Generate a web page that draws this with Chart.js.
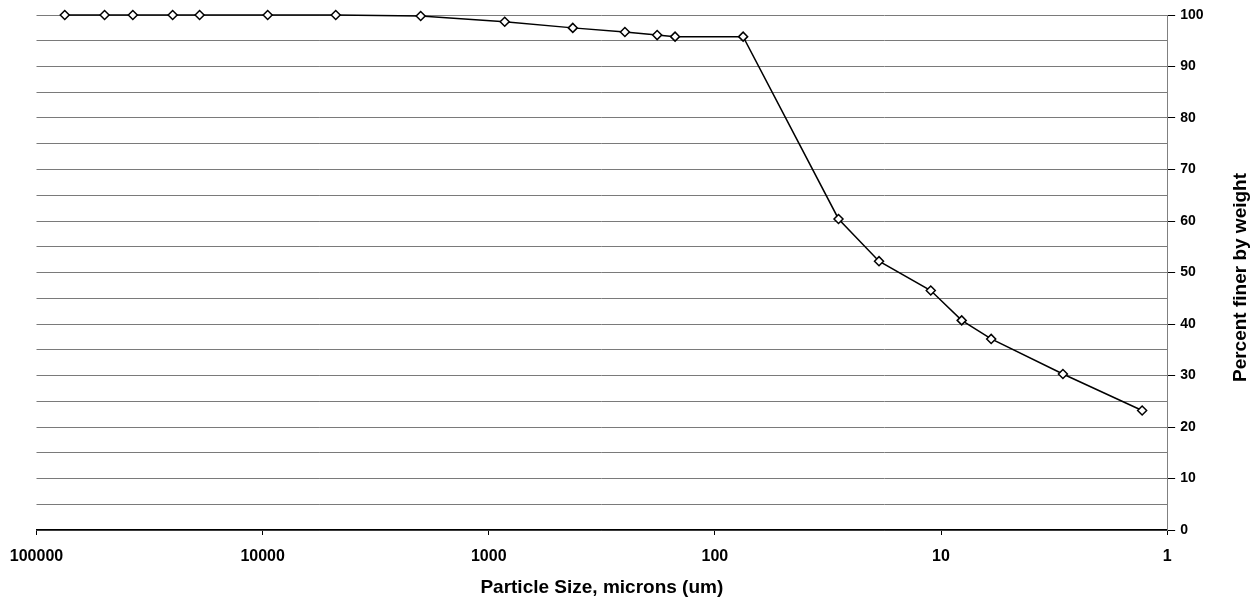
<!DOCTYPE html>
<html>
<head>
<meta charset="utf-8">
<script src="https://cdn.jsdelivr.net/npm/chart.js@4/dist/chart.umd.min.js"></script>
<style>
  html, body { margin: 0; padding: 0; background: #fff; }
  #wrap { width: 1255px; height: 600px; }
</style>
</head>
<body>
<div id="wrap"><canvas id="myChart" width="1255" height="600"></canvas></div>
<script>
// sieve + hydrometer sizes (microns) and percent finer
var sizes = [75000, 50000, 37500, 25000, 19000, 9500, 4750, 2000, 850, 425, 250, 180, 150, 75,
             28.4, 18.8, 11.1, 8.1, 6.0, 2.89, 1.29];
var percentFiner = [100, 100, 100, 100, 100, 100, 100, 99.8, 98.7, 97.5, 96.7, 96.1, 95.8, 95.8,
                    60.4, 52.2, 46.5, 40.7, 37.1, 30.3, 23.2];
var xTicks = [100000, 10000, 1000, 100, 10, 1];
var xTitle = 'Particle Size, microns (um)';
var yTitle = 'Percent finer by weight';

var points = [];
for (var i = 0; i < sizes.length; i++) {
    points.push({x: sizes[i], y: percentFiner[i]});
}

var FONT = '"Liberation Sans", Arial, sans-serif';

/*右侧纵轴标题 (bottom-to-top)*/
var yTitlePlugin = {
    id: 'yTitle',
    afterDraw: function(chart) {
        var c = chart.ctx;
        var area = chart.chartArea;
        c.save();
        c.translate(1241, (area.top + area.bottom) / 2 + 5);
        c.rotate(-Math.PI / 2);
        c.font = 'bold 19px ' + FONT;
        c.fillStyle = '#000';
        c.textAlign = 'center';
        c.textBaseline = 'middle';
        c.fillText(yTitle, 0, 0);
        c.restore();
    }
};

var ctx = document.getElementById("myChart").getContext('2d');
var myChart = new Chart(ctx, {
    type: 'line',
    data: {
        datasets: [{
            data: points,
            borderColor: '#000',
            borderWidth: 1.5,
            pointStyle: 'rectRot',
            pointRadius: 4.5,
            pointBorderWidth: 1.5,
            pointBackgroundColor: '#fff',
            pointBorderColor: '#000',
            tension: 0,
            clip: false
        }]
    },
    options: {
        responsive: false,
        animation: false,
        plugins: {
            legend: { display: false },
            tooltip: { enabled: false }
        },
        layout: {
            padding: { left: 36.5, right: 46.5, top: 15, bottom: 0 }
        },
        scales: {
            x: {
                type: 'logarithmic',
                reverse: true,
                min: 1,
                max: 100000,
                afterBuildTicks: function(axis) {
                    axis.ticks = xTicks.map(function(v) { return {value: v}; });
                },
                afterFit: function(axis) {
                    axis.paddingLeft = 0;
                },
                ticks: {
                    autoSkip: false,
                    maxRotation: 0,
                    padding: 12,
                    color: '#000',
                    font: { family: FONT, size: 16, weight: 'bold' },
                    callback: function(v) { return String(v); }
                },
                grid: {
                    drawOnChartArea: false,
                    drawTicks: true,
                    tickLength: 5,
                    tickColor: '#000'
                },
                border: { color: '#000', width: 1.5 },
                title: {
                    display: true,
                    text: xTitle,
                    color: '#000',
                    padding: { top: -2, bottom: 1 },
                    font: { family: FONT, size: 19, weight: 'bold' }
                }
            },
            y: {
                position: 'right',
                min: 0,
                max: 100,
                afterFit: function(axis) {
                    axis.paddingTop = 0;
                },
                ticks: {
                    stepSize: 5,
                    padding: 5,
                    color: '#000',
                    font: { family: FONT, size: 14, weight: 'bold' },
                    callback: function(v) { return v % 10 === 0 ? String(v) : ''; }
                },
                grid: {
                    color: '#7a7a7a',
                    lineWidth: 1,
                    drawTicks: true,
                    tickLength: 8,
                    tickColor: function(c) {
                        return (c.tick && c.tick.value % 10 === 0) ? '#000' : 'rgba(0,0,0,0)';
                    }
                },
                border: { color: '#808080', width: 1 }
            }
        }
    },
    plugins: [yTitlePlugin]
});
</script>
</body>
</html>
